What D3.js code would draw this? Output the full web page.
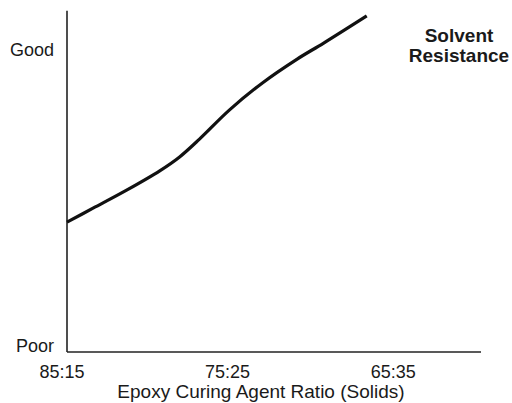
<!DOCTYPE html>
<html>
<head>
<meta charset="utf-8">
<script src="https://cdn.jsdelivr.net/npm/d3@7"></script>
<style>
  body { margin: 0; background: #fff; }
  text { font-family: "Liberation Sans", Arial, sans-serif; fill: #1a1a1a; }
</style>
</head>
<body>
<div id="chart"></div>
<script>
// data (x = epoxy part of the ratio, y = rating 0 poor .. 10 good)
var epoxy = [85, 83.4, 81.4, 79.4, 78.2, 77.0, 75.2, 73.2, 71.1, 69.5, 66.9];
var resistance = [4.3, 4.77, 5.36, 6.0, 6.46, 7.05, 8.01, 8.91, 9.7, 10.23, 11.13];

var tickValues = [85, 75, 65];
var tickLabels = ["85:15", "75:25", "65:35"];
var ratingValues = [10, 0];
var ratingLabels = ["Good", "Poor"];

var svgWidth = 512;
var svgHeight = 403;

var svg = d3.select("#chart")
  .append("svg")
  .attr("width", svgWidth)
  .attr("height", svgHeight);

// x runs from high epoxy on the left to low epoxy on the right
var xScale = d3.scaleLinear()
  .domain([85, 60])
  .range([67, 481]);

var yScale = d3.scaleLinear()
  .domain([0, 10])
  .range([352, 50]);

var points = epoxy.map((e, i) => ({ x: e, y: resistance[i] }));

// axes (plain lines, no ticks)
svg.append("line")
  .attr("x1", xScale(85))
  .attr("x2", xScale(85))
  .attr("y1", yScale(0))
  .attr("y2", yScale(11.3))
  .attr("stroke", "#222")
  .attr("stroke-width", 1.6);

svg.append("line")
  .attr("x1", xScale(85))
  .attr("x2", xScale(60))
  .attr("y1", yScale(0))
  .attr("y2", yScale(0))
  .attr("stroke", "#222")
  .attr("stroke-width", 1.6);

// x tick labels
svg.selectAll(".xlab")
  .data(tickValues)
  .enter()
  .append("text")
  .attr("class", "xlab")
  .attr("x", d => xScale(d) - 5)
  .attr("y", 378)
  .attr("text-anchor", "middle")
  .attr("font-size", 18)
  .text((d, i) => tickLabels[i]);

// y rating labels
svg.selectAll(".ylab")
  .data(ratingValues)
  .enter()
  .append("text")
  .attr("class", "ylab")
  .attr("x", 54)
  .attr("y", d => yScale(d))
  .attr("dy", d => d === 0 ? "0" : "0.35em")
  .attr("text-anchor", "end")
  .attr("font-size", 18)
  .text((d, i) => ratingLabels[i]);

// axis title
svg.append("text")
  .attr("x", 261)
  .attr("y", 398)
  .attr("text-anchor", "middle")
  .attr("font-size", 19)
  .text("Epoxy Curing Agent Ratio (Solids)");

// curve title
var title = svg.append("text")
  .attr("x", 459)
  .attr("y", 42)
  .attr("text-anchor", "middle")
  .attr("font-size", 19)
  .attr("font-weight", "bold");
title.append("tspan").attr("x", 459).attr("dy", 0).text("Solvent");
title.append("tspan").attr("x", 459).attr("dy", 20).text("Resistance");

// the curve
var line = d3.line()
  .x(d => xScale(d.x))
  .y(d => yScale(d.y))
  .curve(d3.curveCatmullRom);

svg.append("path")
  .datum(points)
  .attr("d", line)
  .attr("fill", "none")
  .attr("stroke", "#111")
  .attr("stroke-width", 3.2)
  .attr("stroke-linecap", "butt");
</script>
</body>
</html>
